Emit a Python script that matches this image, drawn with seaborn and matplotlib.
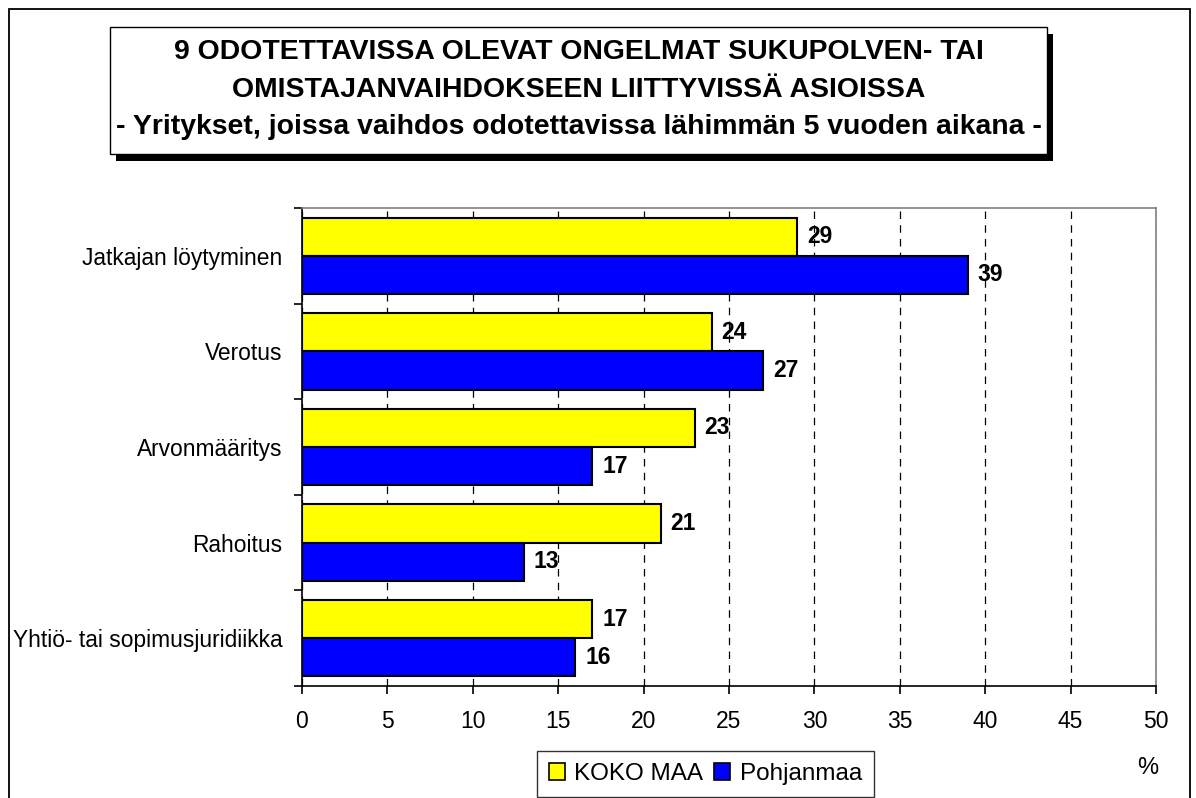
import matplotlib
matplotlib.use("Agg")
import matplotlib.pyplot as plt
from matplotlib.patches import Rectangle, Patch
import seaborn as sns
import pandas as pd

# ---- data ----
categories = ["Jatkajan löytyminen", "Verotus", "Arvonmääritys", "Rahoitus",
              "Yhtiö- tai sopimusjuridiikka"]
koko_maa = [29, 24, 23, 21, 17]
pohjanmaa = [39, 27, 17, 13, 16]
series_names = ["KOKO MAA", "Pohjanmaa"]
x_ticks = [0, 5, 10, 15, 20, 25, 30, 35, 40, 45, 50]
title_lines = ["9 ODOTETTAVISSA OLEVAT ONGELMAT SUKUPOLVEN- TAI",
               "OMISTAJANVAIHDOKSEEN LIITTYVISSÄ ASIOISSA",
               "- Yritykset, joissa vaihdos odotettavissa lähimmän 5 vuoden aikana -"]
colors = ["#FFFF00", "#0000FF"]

df = pd.DataFrame({
    "Kategoria": categories * 2,
    "Arvo": koko_maa + pohjanmaa,
    "Sarja": [series_names[0]] * len(categories) + [series_names[1]] * len(categories),
})

sns.set_style("white")
plt.rcParams["font.family"] = ["Liberation Sans", "DejaVu Sans"]
plt.rcParams["text.color"] = "black"
plt.rcParams["xtick.color"] = "black"
plt.rcParams["ytick.color"] = "black"
plt.rcParams["xtick.labelcolor"] = "black"
plt.rcParams["ytick.labelcolor"] = "black"
plt.rcParams["axes.labelcolor"] = "black"

W, H = 1196, 798
fig = plt.figure(figsize=(W / 100, H / 100), dpi=100)
fig.patch.set_facecolor("white")

def fx(px):
    return px / W

def fy(py):
    return 1 - py / H

ax = fig.add_axes([fx(302), fy(686), fx(1156) - fx(302), fy(208) - fy(686)])

sns.barplot(data=df, y="Kategoria", x="Arvo", hue="Sarja", orient="h",
            palette=colors, width=0.8, edgecolor="black", linewidth=1.5,
            saturation=1, errorbar=None, legend=False, ax=ax)

for cont in ax.containers:
    ax.bar_label(cont, padding=7, fontsize=16.5, fontweight="bold", color="black")

ax.set_xlim(0, 50)
ax.set_ylim(len(categories) - 0.5, -0.5)
ax.set_xticks(x_ticks)
ax.set_xticklabels([str(t) for t in x_ticks], fontsize=16.5)
ax.set_yticks(range(len(categories)))
ax.set_yticklabels(categories, fontsize=16.4)
ax.set_yticks([i - 0.5 for i in range(len(categories) + 1)], minor=True)
ax.tick_params(axis="y", which="major", length=0, pad=14, labelcolor="black")
ax.tick_params(axis="y", which="minor", left=True, length=6, width=1.2, color="black")
ax.tick_params(axis="x", which="major", bottom=True, length=6, width=1.2,
               color="black", labelcolor="black", pad=11)
ax.set_xlabel("")
ax.set_ylabel("")

ax.set_axisbelow(True)
ax.xaxis.grid(True, color="black", linestyle=(0, (6, 5)), linewidth=0.9)
ax.yaxis.grid(False)

for side in ["left", "bottom"]:
    ax.spines[side].set_color("black")
    ax.spines[side].set_linewidth(1.2)
for side in ["top", "right"]:
    ax.spines[side].set_color("#808080")
    ax.spines[side].set_linewidth(1.2)

# outer frame
fig.add_artist(Rectangle((fx(9), -0.05), fx(1190) - fx(9), fy(9) + 0.05,
                         transform=fig.transFigure, fill=False,
                         edgecolor="black", linewidth=1.3, zorder=0))

# title box with shadow
bx0, bx1, by0, by1 = 110, 1047, 27, 154
fig.add_artist(Rectangle((fx(bx0 + 6), fy(by1 + 7)), fx(bx1) - fx(bx0), fy(by0) - fy(by1),
                         transform=fig.transFigure, facecolor="black",
                         edgecolor="black", linewidth=0, zorder=5))
fig.add_artist(Rectangle((fx(bx0), fy(by1)), fx(bx1) - fx(bx0), fy(by0) - fy(by1),
                         transform=fig.transFigure, facecolor="white",
                         edgecolor="black", linewidth=1.0, zorder=6))
for line, py in zip(title_lines, [52, 90, 127]):
    fig.text(fx((bx0 + bx1) / 2), fy(py), line, ha="center", va="center",
             fontsize=20.4, fontweight="bold", color="black", zorder=7)

# legend
handles = [Patch(facecolor=c, edgecolor="black", linewidth=1.2) for c in colors]
leg = fig.legend(handles, series_names, loc="upper left",
                 bbox_to_anchor=(fx(537), fy(751)), ncol=2, fontsize=17.5,
                 frameon=True, fancybox=False, shadow=False,
                 handlelength=0.66, handleheight=0.66, handletextpad=0.38,
                 columnspacing=0.45, borderpad=0.5, borderaxespad=0)
leg.get_frame().set_edgecolor("black")
leg.get_frame().set_linewidth(1.0)
for t in leg.get_texts():
    t.set_color("black")

fig.text(fx(1148), fy(768), "%", ha="center", va="center", fontsize=17, color="black")

fig.savefig("out.png", dpi=100, facecolor="white")
